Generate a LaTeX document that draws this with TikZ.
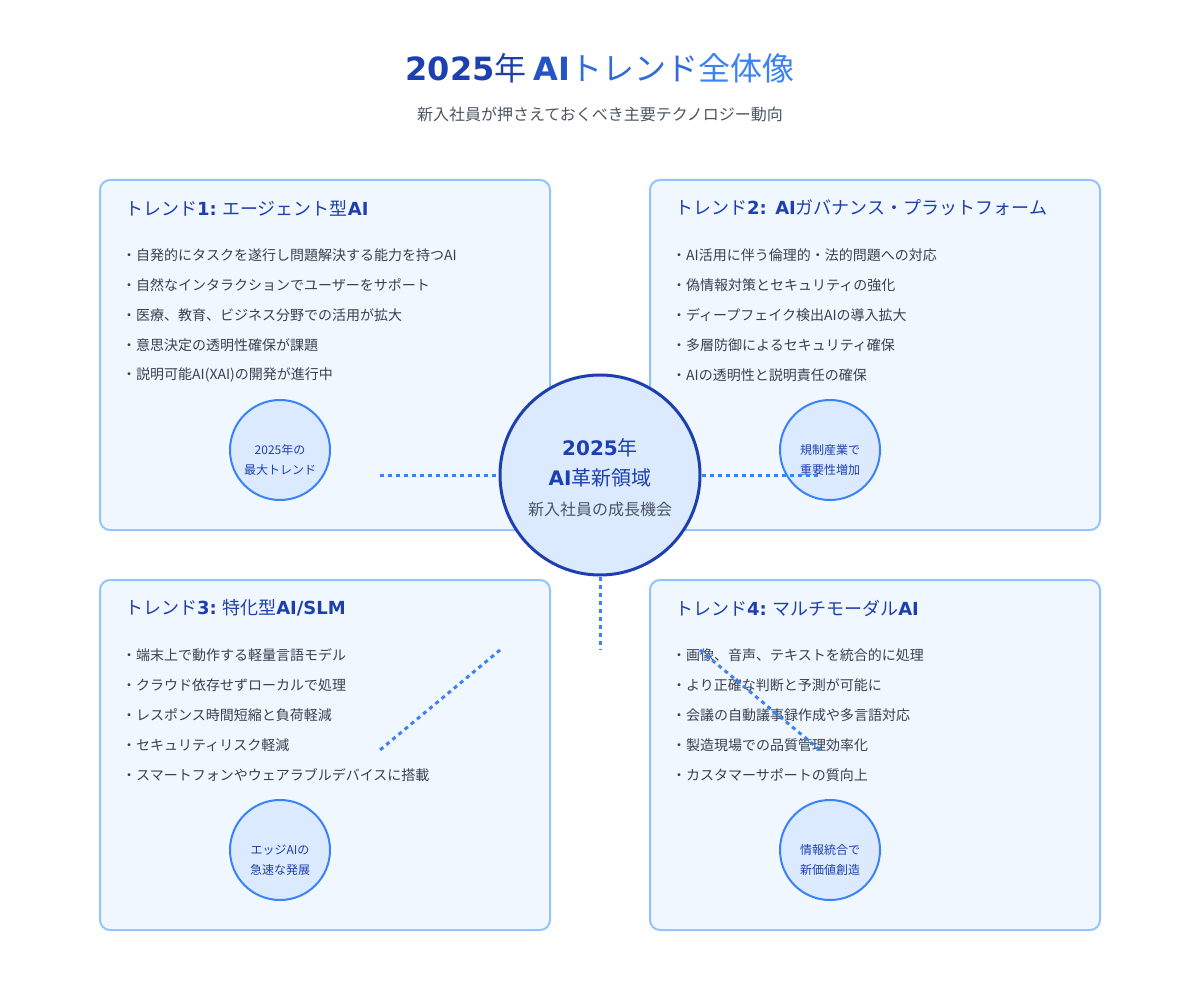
\documentclass[tikz,border=0pt]{standalone}
\usepackage{fontspec}
\setmainfont{Noto Sans CJK JP}
\newfontfamily\dvsans{DejaVu Sans}
\usetikzlibrary{positioning}

\definecolor{deepblue}{HTML}{1E40AF}
\definecolor{midblue}{HTML}{3B82F6}
\definecolor{paleblue}{HTML}{F0F7FF}
\definecolor{edgeblue}{HTML}{93C5FD}
\definecolor{bubbleblue}{HTML}{DBEAFE}
\definecolor{bodygray}{HTML}{374151}
\definecolor{subgray}{HTML}{4B5563}

\newcommand{\lb}[1]{{\dvsans\bfseries #1}}

\tikzset{
  trendbox/.style={draw=edgeblue, fill=paleblue, line width=2pt, rounded corners=10pt,
    minimum width=450pt, minimum height=350pt, inner sep=0pt},
  trendtitle/.style={anchor=west, inner sep=0pt, text=deepblue, font=\fontsize{18}{22}\selectfont},
  bulletline/.style={anchor=west, inner sep=0pt, text=bodygray, font=\fontsize{14}{17}\selectfont},
  badge/.style={circle, draw=midblue, fill=bubbleblue, line width=2pt, minimum size=100pt, inner sep=0pt},
  badgetext/.style={align=center, inner sep=0pt, text=deepblue, font=\fontsize{12}{20}\selectfont},
  hubcircle/.style={circle, draw=deepblue, fill=bubbleblue, line width=3pt, minimum size=200pt, inner sep=0pt},
  linkdash/.style={draw=midblue, line width=3pt, dash pattern=on 4pt off 4pt},
}

\begin{document}
\begin{tikzpicture}[x=1pt, y=-1pt]

  \useasboundingbox[fill=white] (0,0) rectangle (1200,1000);

  % heading
  \node[inner sep=0pt, font=\fontsize{32}{38}\selectfont] (title) at (600,68)
  {\color{deepblue}\lb{2025}年 \color{midblue!30!deepblue}\lb{AI}\color{midblue!65!deepblue}トレンド\color{midblue}全体像};
  \node[inner sep=0pt, text=subgray, font=\fontsize{16}{19}\selectfont] (subtitle) at (600,114)
  {新入社員が押さえておくべき主要テクノロジー動向};

  % four trend boxes
  \node[trendbox] (box1) at (325,355) {};
  \node[trendbox] (box2) at (875,355) {};
  \node[trendbox] (box3) at (325,755) {};
  \node[trendbox] (box4) at (875,755) {};

  \node[trendtitle] (head1) at (125,208) {トレンド\lb{1:} エージェント型\lb{AI}};
  \node[trendtitle] (head2) at (675,208) {トレンド\lb{2: AI}ガバナンス・プラットフォーム};
  \node[trendtitle] (head3) at (125,608) {トレンド\lb{3:} 特化型\lb{AI/SLM}};
  \node[trendtitle] (head4) at (675,608) {トレンド\lb{4:} マルチモーダル\lb{AI}};

  \foreach \txt [count=\i] in
    {
        自発的にタスクを遂行し問題解決する能力を持つAI,
        自然なインタラクションでユーザーをサポート,
        医療、教育、ビジネス分野での活用が拡大,
        意思決定の透明性確保が課題,
        説明可能AI(XAI)の開発が進行中
    }
    {
        \node[bulletline] (item1-\i) at (122,{225+30*\i}) {・\txt};
    }
  \foreach \txt [count=\i] in
    {
        AI活用に伴う倫理的・法的問題への対応,
        偽情報対策とセキュリティの強化,
        ディープフェイク検出AIの導入拡大,
        多層防御によるセキュリティ確保,
        AIの透明性と説明責任の確保
    }
    {
        \node[bulletline] (item2-\i) at (672,{225+30*\i}) {・\txt};
    }
  \foreach \txt [count=\i] in
    {
        端末上で動作する軽量言語モデル,
        クラウド依存せずローカルで処理,
        レスポンス時間短縮と負荷軽減,
        セキュリティリスク軽減,
        スマートフォンやウェアラブルデバイスに搭載
    }
    {
        \node[bulletline] (item3-\i) at (122,{625+30*\i}) {・\txt};
    }
  \foreach \txt [count=\i] in
    {
        画像、音声、テキストを統合的に処理,
        より正確な判断と予測が可能に,
        会議の自動議事録作成や多言語対応,
        製造現場での品質管理効率化,
        カスタマーサポートの質向上
    }
    {
        \node[bulletline] (item4-\i) at (672,{625+30*\i}) {・\txt};
    }

  % badges
  \node[badge] (badge1) at (280,450) {};
  \node[badgetext] (note1) at (280,460) {2025年の\\最大トレンド};
  \node[badge] (badge2) at (830,450) {};
  \node[badgetext] (note2) at (830,460) {規制産業で\\重要性増加};
  \node[badge] (badge3) at (280,850) {};
  \node[badgetext] (note3) at (280,860) {エッジAIの\\急速な発展};
  \node[badge] (badge4) at (830,850) {};
  \node[badgetext] (note4) at (830,860) {情報統合で\\新価値創造};

  % hub
  \node[hubcircle] (hub) at (600,475) {};
  \node[inner sep=0pt, text=deepblue, font=\fontsize{20}{24}\selectfont] (hubyear) at (600,448) {\lb{2025}年};
  \node[inner sep=0pt, text=deepblue, font=\fontsize{20}{24}\selectfont] (hubtopic) at (600,478) {\lb{AI}革新領域};
  \node[inner sep=0pt, text=subgray, font=\fontsize{16}{19}\selectfont] (hubnote) at (600,509) {新入社員の成長機会};

  % dashed links
  \coordinate (leftend) at (380,475);
  \coordinate (rightend) at (820,475);
  \coordinate (downend) at (600,650);
  \coordinate (diagA1) at (500,650);
  \coordinate (diagA2) at (380,750);
  \coordinate (diagB1) at (700,650);
  \coordinate (diagB2) at (820,750);
  \draw[linkdash] (leftend) -- (hub.west);
  \draw[linkdash] (hub.east) -- (rightend);
  \draw[linkdash] (hub.south) -- (downend);
  \draw[linkdash] (diagA1) -- (diagA2);
  \draw[linkdash] (diagB1) -- (diagB2);
\end{tikzpicture}
\end{document}
